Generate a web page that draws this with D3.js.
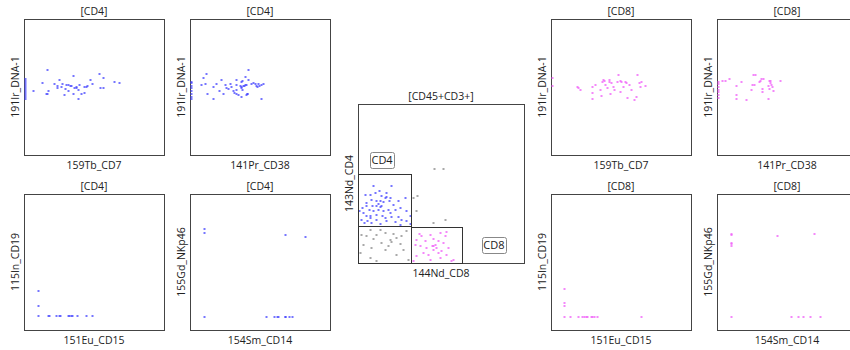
<!DOCTYPE html>
<html><head><meta charset="utf-8">
<script src="https://cdn.jsdelivr.net/npm/d3@7"></script>
<style>
body{margin:0;background:#fff;}
text{font-family:"Open Sans",sans-serif;fill:#222;}
</style></head>
<body><svg id="c" width="850" height="350"></svg>
<script>
// ---- data (arbitrary 0-100 units) ----
const cd4_cd7 = [[16.7,62.7],[12.6,52.7],[6.2,47.3],[17.4,47.3],[16.2,44.6],[15.5,44.6],[21.4,52.5],[25.2,55.1],[26.9,52.5],[23.8,50.7],[23.8,49],[26.2,49.8],[29.3,48.3],[30,51.5],[31.2,51.5],[32.9,50.7],[33.3,50.7],[31.7,47.1],[28.6,43.9],[34.8,44.6],[35.7,49],[36.9,49],[34.8,58.1],[39.3,51.7],[38.8,47.8],[38.3,40.9],[40.7,44.6],[43.1,49.8],[44.3,49.8],[43.1,45.8],[47.1,55.1],[48.3,52.2],[53.3,59.6],[56.4,56.4],[54.3,49.5],[56.7,49.5],[64.3,53.4],[68.1,52.7],[45.2,50.7],[37.1,49.8],
 [0,41],[0,42.5],[0,44],[0,45.5],[0,47],[0,48.5],[0,50],[0,51.5],[0,53],[0,54.5],[0,55.8]];
const cd4_cd38 = [[11.6,59.8],[9.5,56.3],[8.1,51.7],[10.5,52.4],[12.4,44.6],[16.6,41],[16.6,50],[18.8,52.4],[21.9,54.9],[20.7,46.8],[23.5,44.6],[25.2,51.5],[25.9,49.3],[27.1,48.5],[28.3,52.4],[29.5,50],[30.6,46.8],[31.4,45.6],[32.8,55.4],[33,51.5],[33,44.9],[34,44.4],[35.4,51],[36.1,53.4],[36.1,49],[36.6,50],[37.1,54.6],[37.1,47.6],[37.8,51],[38.5,50.5],[39,51.7],[40.1,51.7],[40.1,43.9],[40.9,44.9],[41.3,62.7],[41.3,54.9],[36.1,42.4],[43.7,52.4],[44.9,52.9],[46.1,52.4],[47.3,51],[48,50],[48.9,52.4],[49.6,51],[50.8,51.7],[52,52],[50.8,41.5],[39.4,57.1],[40.4,44.9],[33,47.6],
 [0,41],[0,43],[0,45],[0,47],[0,49],[0,51],[0,53],[0,54]];
const cd4_cd15 = [[9.8,28.4],[9.8,17.5],[9.8,10.4],[16.9,10.4],[17.6,10.4],[22.6,10.4],[24.8,10.4],[26,10.4],[31.4,10.4],[32.4,10.4],[33.3,10.4],[34,10.4],[38.1,10.4],[44.3,10.4],[48.6,10.4]];
const cd4_cd14 = [[9.7,74.1],[9.7,71.6],[9.7,9.6],[67.5,70.1],[82.2,68.4],[54.6,9.6],[60.3,9.6],[61.8,9.6],[63.2,9.6],[67.5,9.6],[67.9,9.6],[70.8,9.6],[72.7,9.6]];

const mainCD4 = [[9.1,48.2],[19.7,48.2],[12.7,45.1],[17.1,44],[16.1,40.9],[16.7,41.5],[7,43],[4,43],[14.1,41.9],[8,39.8],[10.7,38.8],[12.1,37.3],[15.1,38.2],[18.7,38.8],[8.7,36.1],[11.1,35.6],[13.1,35.2],[14.1,36.1],[5,35.6],[2.6,34.6],[6.6,33.1],[9.1,32.5],[12.1,33.1],[15.1,32.5],[18.1,33.5],[22.1,33.5],[25.2,34.6],[24.1,38.8],[28.2,40.9],[3,31.4],[5,29.8],[7,29.4],[11.1,30.4],[14.7,29.4],[16.1,28.3],[20.1,28.9],[24.1,28.9],[26.2,27.3],[29.2,26.2],[31.2,24.7],[2,27.3],[5.4,26.2],[8,25.2],[13.1,24.7],[17.1,26.2],[22.1,25.6],[25.2,24.1],[11.1,27.3],[19.1,31.4],[29.2,32.5],[4.6,37.7],[10.1,44],[21.1,36.7],[7,28.3],[3.6,25.2],[0.6,32.5],[31.2,29.4],[19.5,40.9],[13.1,38.8]];
const mainOther = [[45.7,59.1],[51.3,59.1],[35.6,41.9],[33.2,40.9],[52.3,26.8],[45.3,25.2],[34.8,32.5],
 [7,21],[13.1,20.5],[2,17.8],[5,16.8],[11.1,17.8],[16.1,18.9],[21.1,18.4],[9.1,15.1],[19.1,14.7],[23.1,15.7],[26.2,16.8],[3,11.5],[14.1,12.6],[20.1,13],[25.2,12.2],[8,9.4],[16.1,8.4],[7,3.1],[11.1,1],[27.2,8.4],[30.2,2.1],[1,6.3],[23.1,5.2],[29.2,19.9],[18.1,10.5]];
const mainCD8 = [[36.8,18.4],[43.3,17.8],[49.3,18.9],[53.3,19.3],[52.3,16.8],[35.2,14.7],[40.2,13.6],[45.3,15.1],[48.3,13.6],[51.3,12.6],[34.2,11.5],[37.2,10.5],[41.2,9.4],[44.3,10.5],[44.9,8.4],[46.9,9.4],[48.3,6.3],[50.3,7.3],[39.2,6.3],[42.3,5.2],[35.2,4.2],[53.3,5.2],[57.3,2.1],[56.3,1],[33.2,1],[43.3,2.1],[46.3,11.5],[38.2,16.8],[54.3,9.4],[49.3,3.1],[45.3,10.5]];
// gates: [x0,x1,y0,y1]
const gateCD4 = [0,32.2,23.1,55.8];
const gateNeg = [0,32.2,0,23.1];
const gateCD8 = [32.2,62.8,0,22.4];
const gateLabels = [{name:"CD4",x:14.5,y:64.8},{name:"CD8",x:81.9,y:11.1}];

const cd8_cd7 = [[18.6,49.8],[19,49],[20.5,47.8],[29.3,50.2],[31.7,51.7],[29.3,45.3],[29.3,41.4],[35.2,47.8],[35.5,43.6],[36.9,55.1],[37.6,54.7],[36.4,53.9],[38.8,51.5],[40,49],[41.2,55.1],[41.7,53.9],[42.4,44.9],[43.1,52.7],[44.8,47.8],[47.1,53.9],[47.9,58.8],[49,54.4],[50.2,53.9],[49.5,46.3],[51.2,49.8],[53.1,53.9],[54.3,41.7],[55.5,51.5],[57.4,47.8],[59,40.4],[61,42.4],[61.7,58.8],[62.6,53.2],[63.8,49.8],[64.5,53.9],[67.4,50.7],[53.6,53.2],[44.3,50.2],[0,56.4],[0,51]];
const cd8_cd38 = [[3.6,54.7],[6,54.2],[8.3,56.1],[13.8,50.7],[17.1,53.9],[13.6,44.1],[13.8,41.2],[20.5,40.4],[24.3,47.8],[25,51.5],[25.7,58.6],[26.9,58.6],[26.7,51.5],[29.8,53.9],[31,54.7],[31.7,55.6],[32.9,56.1],[32.1,48.3],[32.1,46.1],[36.2,50.7],[36.9,54.4],[37.6,53.2],[38.1,54.2],[38.6,51.5],[39,49.8],[40,46.8],[36.2,41.4],[45.2,54.7],[37.4,48.3],
 [0,42],[0,44],[0,46],[0,48],[0,50],[0,52],[0,54]];
const cd8_cd15 = [[9.6,30.5],[9.6,19.9],[9.6,17.9],[9.6,9.9],[13.9,9.9],[19.4,9.9],[22.3,9.9],[23.5,9.9],[24.7,9.9],[25.9,9.9],[28.3,9.9],[29.5,9.9],[30.7,9.9],[32.6,9.9],[64.3,9.9]];
const cd8_cd14 = [[9.8,70.5],[9.8,69.5],[9.8,64.1],[9.8,62.9],[9.8,61.7],[9.8,9.3],[42.6,69],[69.3,70.7],[52.6,9.3],[57.9,9.3],[61.4,9.3],[66.7,9.3],[73.8,9.3]];

const titles = {cd4:"[CD4]", cd8:"[CD8]", main:"[CD45+CD3+]"};
const colors = {cd4:"#4848ff", cd8:"#f060f8", other:"#8c8c8c"};

// ---- drawing ----
const svg = d3.select("#c");

function panel(x0,y0,w,h,title,xlab,ylab,layers){
  const x = d3.scaleLinear().domain([0,100]).range([x0,x0+w]);
  const y = d3.scaleLinear().domain([0,100]).range([y0+h,y0]);
  const g = svg.append("g");
  g.append("rect").attr("x",x0+0.5).attr("y",y0+0.5).attr("width",w).attr("height",h)
    .attr("fill","#fff").attr("stroke","#444").attr("stroke-width",1);
  layers.forEach(L=>{
    g.selectAll(null).data(L.data).enter().append("rect")
      .attr("x",d=>Math.round(x(d[0]))-0.5+ (d[0]===0?1:0)).attr("y",d=>Math.round(y(d[1]))-1)
      .attr("width",2).attr("height",2).attr("fill",L.color).attr("opacity",0.75);
  });
  g.append("text").attr("x",x0+w/2).attr("y",y0-4).attr("text-anchor","middle")
    .attr("font-size",10.5).text(title);
  g.append("text").attr("x",x0+w/2).attr("y",y0+h+14).attr("text-anchor","middle")
    .attr("font-size",10.5).text(xlab);
  g.append("text").attr("transform",`translate(${x0-9},${y0+h/2}) rotate(-90)`)
    .attr("text-anchor","middle").attr("dy","0.35em").attr("font-size",10.5).text(ylab);
  return {x,y,g};
}

panel(24,19,140,136,titles.cd4,"159Tb_CD7","191Ir_DNA-1",[{data:cd4_cd7,color:colors.cd4}]);
panel(190,19,140,136,titles.cd4,"141Pr_CD38","191Ir_DNA-1",[{data:cd4_cd38,color:colors.cd4}]);
panel(24,194,140,136,titles.cd4,"151Eu_CD15","115In_CD19",[{data:cd4_cd15,color:colors.cd4}]);
panel(190,194,140,136,titles.cd4,"154Sm_CD14","155Gd_NKp46",[{data:cd4_cd14,color:colors.cd4}]);

panel(551,19,140,136,titles.cd8,"159Tb_CD7","191Ir_DNA-1",[{data:cd8_cd7,color:colors.cd8}]);
panel(717,19,140,136,titles.cd8,"141Pr_CD38","191Ir_DNA-1",[{data:cd8_cd38,color:colors.cd8}]);
panel(551,194,140,136,titles.cd8,"151Eu_CD15","115In_CD19",[{data:cd8_cd15,color:colors.cd8}]);
panel(717,194,140,136,titles.cd8,"154Sm_CD14","155Gd_NKp46",[{data:cd8_cd14,color:colors.cd8}]);

const M = panel(358,104,166,159,titles.main,"144Nd_CD8","143Nd_CD4",
  [{data:mainOther,color:colors.other},{data:mainCD4,color:colors.cd4},{data:mainCD8,color:colors.cd8}]);
[gateCD4,gateNeg,gateCD8].forEach(gt=>{
  M.g.append("rect").attr("x",Math.round(M.x(gt[0]))+0.5).attr("y",Math.round(M.y(gt[3]))+0.5)
    .attr("width",Math.round(M.x(gt[1])-M.x(gt[0]))).attr("height",Math.round(M.y(gt[2])-M.y(gt[3])))
    .attr("fill","none").attr("stroke","#333").attr("stroke-width",1);
});
gateLabels.forEach(l=>{
  const cx=M.x(l.x), cy=M.y(l.y);
  M.g.append("rect").attr("x",Math.round(cx-12)+0.5).attr("y",Math.round(cy-8)+0.5).attr("width",24).attr("height",16)
    .attr("rx",2).attr("fill","#fff").attr("stroke","#888");
  M.g.append("text").attr("x",cx).attr("y",cy).attr("dy","0.36em").attr("text-anchor","middle")
    .attr("font-size",11).text(l.name);
});
</script></body></html>
